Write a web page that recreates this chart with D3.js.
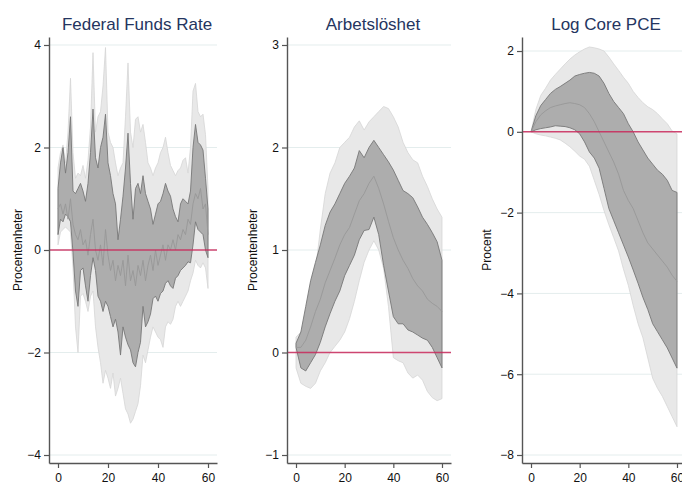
<!DOCTYPE html>
<html>
<head>
<meta charset="utf-8">
<script src="https://cdn.jsdelivr.net/npm/d3@7"></script>
<style>
  html, body { margin: 0; padding: 0; background: #ffffff; }
  svg { display: block; font-family: "Liberation Sans", Arial, sans-serif; }
</style>
</head>
<body>
<svg id="chart" width="682" height="486"></svg>
<script>
// Impulse responses: median with 68% (inner) and 90% (outer) bands, horizon in months.

const horizonMonthly = [0,1,2,3,4,5,6,7,8,9,10,11,12,13,14,15,16,17,18,19,20,21,22,23,24,25,26,27,28,29,30,
  31,32,33,34,35,36,37,38,39,40,41,42,43,44,45,46,47,48,49,50,51,52,53,54,55,56,57,58,59,60];
const horizonBimonthly = [0,2,4,6,8,10,12,14,16,18,20,22,24,26,28,30,32,34,36,38,40,42,44,46,48,50,52,54,56,58,60];

// Federal Funds Rate (procentenheter), monthly horizons 0..60
const ffrOuterHi = [1.6,1.9,2.05,1.7,2.3,3.35,1.9,1.4,1.5,1.45,1.65,1.4,1.75,2.4,3.85,2.3,2.6,2.7,3.2,3.95,
  2.3,2.1,2.0,1.7,1.45,1.6,1.7,2.6,3.65,2.3,2.0,2.55,2.6,2.3,2.45,2.1,1.7,1.6,1.45,1.6,
  1.7,1.9,2.0,2.2,1.9,1.65,1.55,1.45,1.55,1.6,1.75,1.8,1.5,2.0,3.1,3.25,2.7,2.6,2.65,2.25,1.2];
const ffrInnerHi = [1.2,1.7,2.0,1.5,1.9,2.6,1.15,1.1,1.2,1.3,1.15,0.95,1.3,1.9,2.75,1.8,1.6,2.0,2.2,2.65,
  1.7,1.45,1.1,0.9,0.2,0.6,1.05,1.6,2.28,1.3,0.6,1.2,1.3,1.1,1.45,1.1,0.95,0.8,0.5,0.7,
  0.9,0.95,1.1,1.3,1.15,1.05,0.8,0.65,0.55,0.9,1.0,0.95,0.9,1.15,2.0,2.45,2.1,2.05,1.95,1.4,0.8];
const ffrMedian = [0.8,0.9,0.7,0.9,0.6,1.0,0.5,0.3,0.2,0.4,0.1,0.2,-0.1,0.3,0.6,0.0,-0.2,0.1,-0.3,0.4,
  -0.1,-0.4,-0.2,-0.6,-0.3,-0.5,-0.2,-0.7,-0.1,-0.6,-0.4,-0.7,-0.3,-0.5,-0.2,-0.6,-0.3,-0.1,-0.4,0.0,
  -0.3,-0.1,0.1,-0.2,0.1,0.0,0.2,0.0,0.3,0.2,0.4,0.3,0.6,0.5,0.9,1.1,1.0,1.2,0.8,0.9,0.3];
const ffrInnerLo = [0.3,0.6,0.55,0.7,0.65,0.55,-0.05,-0.8,-1.1,-0.4,-0.35,-0.7,-1.0,-0.5,-0.15,-0.4,-0.9,-1.0,-1.2,-1.0,
  -1.1,-1.3,-1.5,-1.35,-1.6,-2.05,-1.5,-1.7,-1.85,-1.95,-2.2,-2.28,-2.0,-1.8,-1.1,-1.5,-1.4,-1.25,-0.95,-0.9,
  -1.0,-0.85,-0.8,-0.65,-0.6,-0.7,-0.75,-0.55,-0.5,-0.4,-0.35,-0.3,-0.23,-0.25,0.1,0.55,0.4,0.35,0.3,0.0,-0.15];
const ffrOuterLo = [0.1,0.35,0.4,0.45,0.4,0.35,-0.35,-1.5,-2.0,-0.9,-0.85,-1.0,-1.2,-0.9,-0.8,-1.5,-1.9,-2.2,-2.6,-2.35,
  -2.5,-2.7,-2.4,-2.85,-2.7,-2.5,-2.8,-3.1,-3.2,-3.38,-3.3,-3.15,-3.0,-2.65,-2.05,-2.2,-1.95,-1.7,-1.5,-1.6,
  -1.7,-1.75,-1.9,-1.5,-1.4,-1.45,-1.35,-1.1,-1.0,-1.1,-1.0,-0.9,-0.8,-0.6,-0.45,-0.2,-0.3,-0.35,-0.25,-0.35,-0.75];

// Arbetslöshet (procentenheter), every second month 0..60
const unempOuterHi = [0.15,0.2,0.25,0.35,0.8,1.2,1.55,1.75,1.85,2.0,2.05,2.1,2.2,2.26,2.17,2.25,2.3,2.35,2.4,2.38,
  2.3,2.2,2.05,1.95,1.88,1.85,1.72,1.62,1.5,1.4,1.32];
const unempInnerHi = [0.09,0.2,0.45,0.7,0.88,1.05,1.24,1.37,1.45,1.55,1.65,1.72,1.8,1.97,1.9,2.0,2.07,2.0,1.93,1.86,
  1.78,1.68,1.58,1.55,1.51,1.42,1.32,1.25,1.17,1.08,0.9];
const unempMedian = [0.05,0.05,0.12,0.25,0.4,0.52,0.68,0.8,0.92,1.05,1.15,1.22,1.35,1.48,1.55,1.65,1.72,1.6,1.45,1.28,
  1.12,1.0,0.9,0.82,0.72,0.65,0.6,0.52,0.48,0.45,0.4];
const unempInnerLo = [0.05,-0.15,-0.18,-0.1,-0.02,0.1,0.25,0.38,0.5,0.6,0.75,0.85,0.95,1.1,1.19,1.2,1.32,1.15,0.85,0.6,
  0.35,0.28,0.28,0.22,0.2,0.17,0.14,0.12,0.05,-0.05,-0.15];
const unempOuterLo = [-0.15,-0.3,-0.33,-0.35,-0.3,-0.18,-0.1,0.0,0.06,0.12,0.2,0.33,0.5,0.7,0.88,1.0,1.09,1.0,0.82,0.45,
  -0.05,-0.08,-0.1,-0.2,-0.25,-0.22,-0.27,-0.38,-0.44,-0.47,-0.45];

// Log Core PCE (procent), every second month 0..60
const pceOuterHi = [0,0.55,0.9,1.08,1.28,1.42,1.55,1.68,1.8,1.9,1.98,2.05,2.1,2.08,2.05,2.0,1.85,1.68,1.52,1.35,
  1.2,1.0,0.85,0.72,0.62,0.55,0.45,0.32,0.2,0.02,-0.05];
const pceInnerHi = [0,0.4,0.65,0.8,0.95,1.05,1.12,1.2,1.28,1.38,1.42,1.45,1.47,1.45,1.38,1.2,0.95,0.75,0.6,0.45,
  0.2,0.0,-0.25,-0.45,-0.65,-0.8,-0.95,-1.05,-1.2,-1.45,-1.5];
const pceMedian = [0,0.25,0.42,0.52,0.6,0.64,0.67,0.7,0.72,0.7,0.67,0.6,0.45,0.25,0.0,-0.25,-0.5,-0.75,-1.05,-1.45,
  -1.7,-1.9,-2.2,-2.5,-2.75,-2.9,-3.05,-3.2,-3.35,-3.55,-3.7];
const pceInnerLo = [0,0.05,0.08,0.1,0.12,0.15,0.14,0.13,0.1,0.05,-0.05,-0.25,-0.5,-0.65,-0.9,-1.4,-1.9,-2.2,-2.5,-2.8,
  -3.1,-3.42,-3.75,-4.1,-4.4,-4.75,-4.95,-5.15,-5.35,-5.6,-5.85];
const pceOuterLo = [0,-0.05,-0.08,-0.1,-0.13,-0.16,-0.2,-0.28,-0.37,-0.48,-0.6,-0.68,-0.85,-1.2,-1.55,-1.95,-2.3,-2.62,-2.95,-3.4,
  -3.8,-4.3,-4.75,-5.1,-5.6,-6.1,-6.35,-6.55,-6.8,-7.05,-7.3];

const titles = ["Federal Funds Rate", "Arbetslöshet", "Log Core PCE"];
const yLabels = ["Procentenheter", "Procentenheter", "Procent"];
const xTicks = [0, 20, 40, 60];
const yTicksFfr = [-4, -2, 0, 2, 4];
const yTicksUnemp = [-1, 0, 1, 2, 3];
const yTicksPce = [-8, -6, -4, -2, 0, 2];

const panels = [
  { title: titles[0], ylabel: yLabels[0], h: horizonMonthly,
    oh: ffrOuterHi, ih: ffrInnerHi, m: ffrMedian, il: ffrInnerLo, ol: ffrOuterLo,
    yTicks: yTicksFfr, yDom: [-4.156, 4.156], left: 49, right: 217, xDom: [-3.6, 63.6], labelX: 18 },
  { title: titles[1], ylabel: yLabels[1], h: horizonBimonthly,
    oh: unempOuterHi, ih: unempInnerHi, m: unempMedian, il: unempInnerLo, ol: unempOuterLo,
    yTicks: yTicksUnemp, yDom: [-1.078, 3.078], left: 287, right: 451, xDom: [-3.7, 63.7], labelX: 253 },
  { title: titles[2], ylabel: yLabels[2], h: horizonBimonthly,
    oh: pceOuterHi, ih: pceInnerHi, m: pceMedian, il: pceInnerLo, ol: pceOuterLo,
    yTicks: yTicksPce, yDom: [-8.198, 2.347], left: 522, right: 686, xDom: [-3.7, 63.7], labelX: 487 }
];

const plotTop = 37, plotBottom = 463;
const svg = d3.select("#chart");

panels.forEach((p) => {
  const x = d3.scaleLinear().domain(p.xDom).range([p.left, p.right]);
  const y = d3.scaleLinear().domain(p.yDom).range([plotBottom, plotTop]);
  const g = svg.append("g");

  // horizontal grid
  g.selectAll("line.grid").data(p.yTicks).join("line")
    .attr("class", "grid")
    .attr("x1", p.left).attr("x2", p.right)
    .attr("y1", d => y(d)).attr("y2", d => y(d))
    .attr("stroke", "#e4eded").attr("stroke-width", 1);

  const rows = p.h.map((hv, i) => ({ h: hv, oh: p.oh[i], ih: p.ih[i], m: p.m[i], il: p.il[i], ol: p.ol[i] }));

  const outer = d3.area().x(d => x(d.h)).y0(d => y(d.ol)).y1(d => y(d.oh));
  const inner = d3.area().x(d => x(d.h)).y0(d => y(d.il)).y1(d => y(d.ih));
  const mid = d3.line().x(d => x(d.h)).y(d => y(d.m));

  g.append("path").datum(rows).attr("d", outer)
    .attr("fill", "#e8e8e8").attr("stroke", "#d6d6d6").attr("stroke-width", 0.8);
  g.append("path").datum(rows).attr("d", inner)
    .attr("fill", "#adadad").attr("stroke", "#777777").attr("stroke-width", 0.9);
  g.append("path").datum(rows).attr("d", mid)
    .attr("fill", "none").attr("stroke", "#979797").attr("stroke-width", 0.9);

  // zero reference line
  g.append("line")
    .attr("x1", p.left).attr("x2", p.right)
    .attr("y1", y(0)).attr("y2", y(0))
    .attr("stroke", "#c9285a").attr("stroke-opacity", 0.85).attr("stroke-width", 1.6);

  // axes
  const yAxis = g.append("g").attr("transform", `translate(${p.left},0)`)
    .call(d3.axisLeft(y).tickValues(p.yTicks).tickFormat(d3.format("d")).tickSize(5).tickPadding(3).tickSizeOuter(0));
  const xAxis = g.append("g").attr("transform", `translate(0,${plotBottom})`)
    .call(d3.axisBottom(x).tickValues(xTicks).tickFormat(d3.format("d")).tickSize(5).tickPadding(5).tickSizeOuter(0));
  [yAxis, xAxis].forEach(a => {
    a.select(".domain").attr("stroke", "#555555").attr("stroke-width", 1.4);
    a.selectAll(".tick line").attr("stroke", "#555555").attr("stroke-width", 1.2);
    a.selectAll(".tick text").attr("fill", "#111111").attr("font-size", 12)
      .attr("font-family", "'Liberation Sans', Arial, sans-serif");
  });

  // title
  svg.append("text")
    .attr("x", (p.left + Math.min(p.right, 682)) / 2 + 4).attr("y", 30)
    .attr("text-anchor", "middle").attr("font-size", 17).attr("fill", "#253560")
    .text(p.title);

  // y-axis label
  svg.append("text")
    .attr("transform", `translate(${p.labelX + 4},250) rotate(-90)`)
    .attr("text-anchor", "middle").attr("font-size", 12).attr("fill", "#111111")
    .text(p.ylabel);
});
</script>
</body>
</html>
